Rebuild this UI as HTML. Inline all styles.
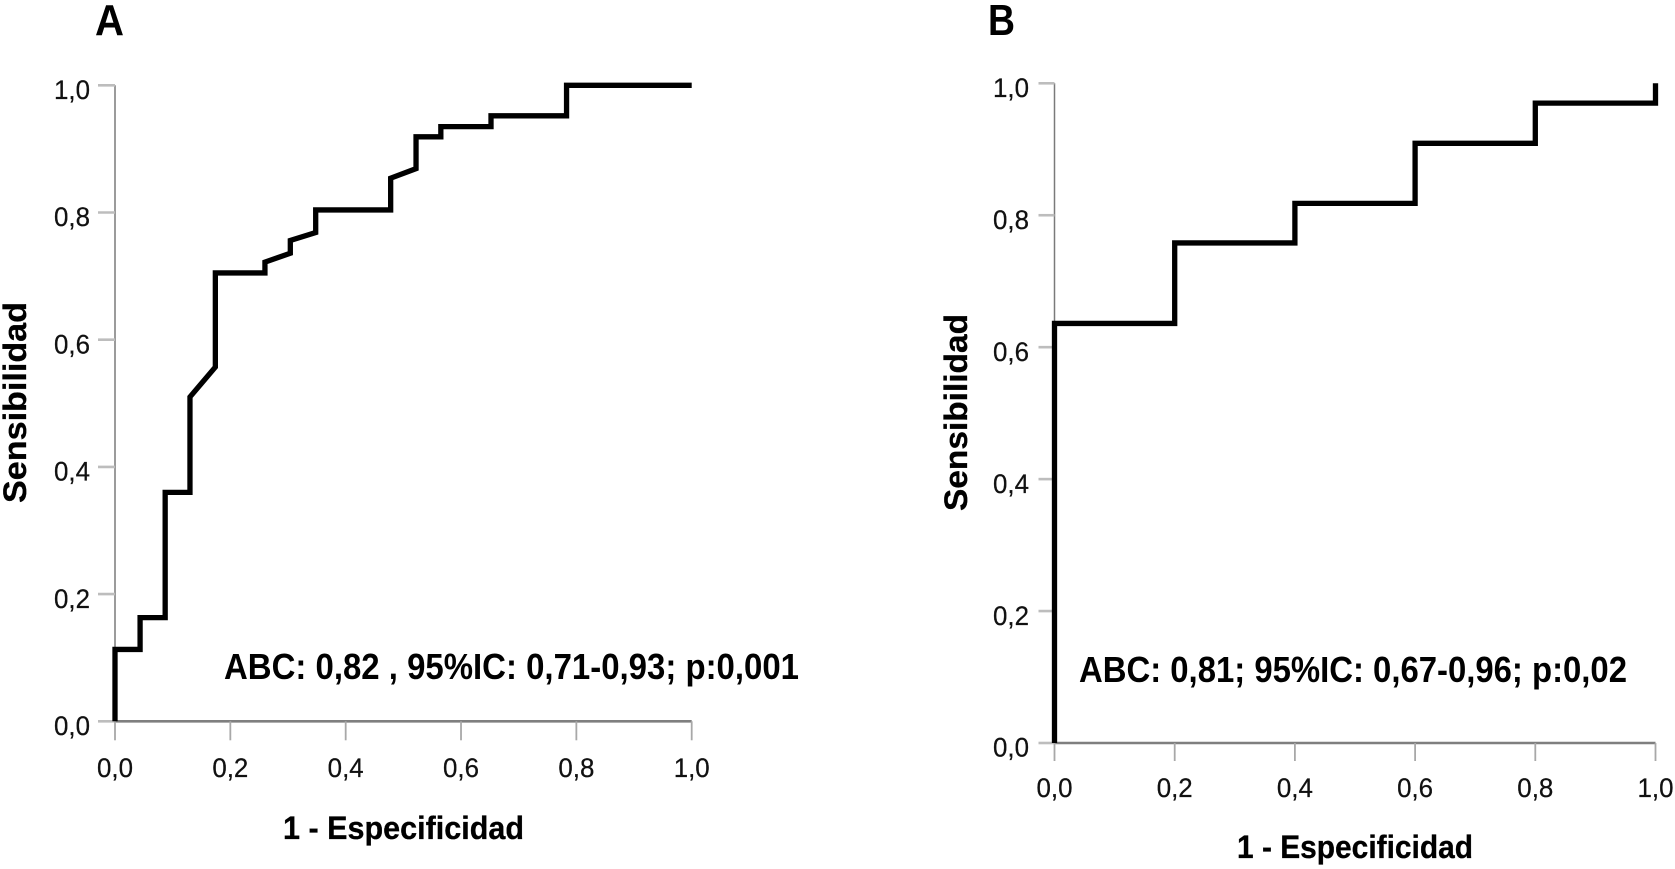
<!DOCTYPE html>
<html lang="es">
<head>
<meta charset="utf-8">
<title>Curvas ROC A y B</title>
<style>
html,body{margin:0;padding:0;background:#fff;width:1675px;height:869px;overflow:hidden}
svg{display:block}
text{font-family:"Liberation Sans",Arial,sans-serif;fill:#111}
.tick{font-size:27px;stroke:#111;stroke-width:.25px}
.title{font-size:32px;font-weight:bold;fill:#000;stroke:#000;stroke-width:.3px}
.note{font-size:36px;font-weight:bold;fill:#000}
.panel{font-size:44px;font-weight:bold;fill:#000}
</style>
</head>
<body>
<svg id="figure" xmlns="http://www.w3.org/2000/svg" width="1675" height="869" viewBox="0 0 1675 869">
  <rect width="1675" height="869" fill="#fff"/>
  <text class="panel" x="95" y="35" textLength="29" lengthAdjust="spacingAndGlyphs">A</text>
  <text class="panel" x="988" y="35" textLength="27" lengthAdjust="spacingAndGlyphs">B</text>

  <g id="chartA"></g>
  <g id="chartB"></g>

  <text class="title" x="283" y="839" textLength="241" lengthAdjust="spacingAndGlyphs">1 - Especificidad</text>
  <text class="title" transform="translate(26 503) rotate(-90)" textLength="201" lengthAdjust="spacingAndGlyphs">Sensibilidad</text>
  <text class="note" x="224" y="679" textLength="575" lengthAdjust="spacingAndGlyphs">ABC: 0,82 , 95%IC: 0,71-0,93; p:0,001</text>

  <text class="title" x="1237" y="858" textLength="236" lengthAdjust="spacingAndGlyphs">1 - Especificidad</text>
  <text class="title" transform="translate(967 511) rotate(-90)" textLength="197" lengthAdjust="spacingAndGlyphs">Sensibilidad</text>
  <text class="note" x="1079" y="682" textLength="548" lengthAdjust="spacingAndGlyphs">ABC: 0,81; 95%IC: 0,67-0,96; p:0,02</text>
</svg>
<script>
const tickValues = [0, 0.2, 0.4, 0.6, 0.8, 1];
const tickLabels = ['0,0', '0,2', '0,4', '0,6', '0,8', '1,0'];

const chartAFpr = [0, 0, 0.0435, 0.0435, 0.087, 0.087, 0.13, 0.13, 0.174, 0.174, 0.26, 0.26, 0.304, 0.304, 0.348, 0.348, 0.478, 0.478, 0.522, 0.522, 0.565, 0.565, 0.652, 0.652, 0.783, 0.783, 1];
const chartATpr = [0, 0.113, 0.113, 0.163, 0.163, 0.36, 0.36, 0.51, 0.557, 0.705, 0.705, 0.722, 0.736, 0.756, 0.7685, 0.804, 0.804, 0.854, 0.869, 0.919, 0.919, 0.935, 0.935, 0.952, 0.952, 1, 1];

const chartBFpr = [0, 0, 0.2, 0.2, 0.4, 0.4, 0.6, 0.6, 0.8, 0.8, 1, 1];
const chartBTpr = [0, 0.636, 0.636, 0.758, 0.758, 0.818, 0.818, 0.909, 0.909, 0.97, 0.97, 1];

const SVG_NS = 'http://www.w3.org/2000/svg';

function makeLine(parent, x1, y1, x2, y2, color, width) {
  const el = document.createElementNS(SVG_NS, 'line');
  el.setAttribute('x1', x1);
  el.setAttribute('y1', y1);
  el.setAttribute('x2', x2);
  el.setAttribute('y2', y2);
  el.setAttribute('stroke', color);
  el.setAttribute('stroke-width', width);
  parent.appendChild(el);
  return el;
}

function makeTick(parent, x, y, anchor, label) {
  const el = document.createElementNS(SVG_NS, 'text');
  el.setAttribute('class', 'tick');
  el.setAttribute('x', x);
  el.setAttribute('y', y);
  el.setAttribute('text-anchor', anchor);
  el.setAttribute('textLength', '36');
  el.setAttribute('lengthAdjust', 'spacingAndGlyphs');
  el.textContent = label;
  parent.appendChild(el);
  return el;
}

function drawChart(parent, fpr, tpr, box) {
  const scaleX = v => box.left + v * (box.right - box.left);
  const scaleY = v => box.bottom - v * (box.bottom - box.top);

  const yAxis = makeLine(parent, box.left, box.top, box.left, box.bottom, '#7a7a7a', 1.5);
  
  

  const xAxis = makeLine(parent, box.left, box.bottom, box.right, box.bottom, '#7f7f7f', 2.6);
  
  

  tickValues.forEach((value, i) => {
    const yTick = makeLine(parent, box.left - box.yTickLen, scaleY(value), box.left, scaleY(value), '#bdbdbd', 2.6);
    
    

    const yLabel = makeTick(parent, box.yLabelRight, scaleY(value) + 13.7, 'end', tickLabels[i]);
    
    

    const xTick = makeLine(parent, scaleX(value), box.bottom, scaleX(value), box.bottom + box.xTickLen, '#a8a8a8', 1.8);
    
    

    const xLabel = makeTick(parent, scaleX(value), box.xLabelY, 'middle', tickLabels[i]);
    
    
  });

  const curve = document.createElementNS(SVG_NS, 'polyline');
  curve.setAttribute('points', fpr.map((v, i) => scaleX(v) + ',' + scaleY(tpr[i])).join(' '));
  curve.setAttribute('fill', 'none');
  curve.setAttribute('stroke', '#000');
  curve.setAttribute('stroke-width', box.stroke);
  curve.setAttribute('stroke-linejoin', 'miter');
  curve.setAttribute('stroke-linecap', 'butt');
  
  
  parent.appendChild(curve);
}

drawChart(document.getElementById('chartA'), chartAFpr, chartATpr, {
  left: 115, right: 691.7, top: 85.3, bottom: 721.3,
  yTickLen: 17, xTickLen: 19, yLabelRight: 90, xLabelY: 777, stroke: 5.3
});
drawChart(document.getElementById('chartB'), chartBFpr, chartBTpr, {
  left: 1054.5, right: 1655.5, top: 83.3, bottom: 743,
  yTickLen: 16, xTickLen: 18, yLabelRight: 1029, xLabelY: 797, stroke: 5.3
});
</script>
</body>
</html>
